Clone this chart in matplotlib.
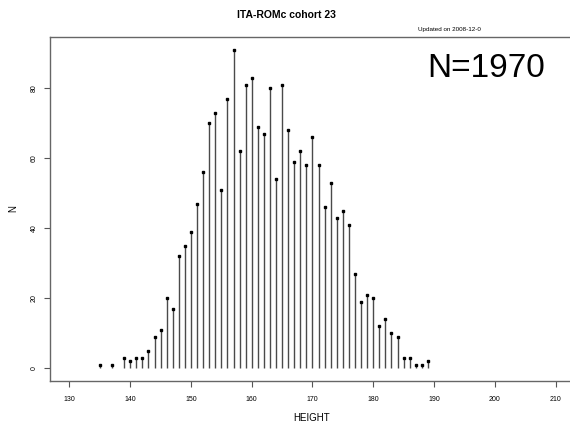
import numpy as np
import matplotlib
matplotlib.use("Agg")
import matplotlib.pyplot as plt

plt.rcParams['font.family'] = ['Liberation Sans', 'DejaVu Sans']

# height (cm) and count of subjects
height = [135, 137, 139, 140, 141, 142, 143, 144, 145, 146, 147, 148,
          149, 150, 151, 152, 153, 154, 155, 156, 157, 158,
          159, 160, 161, 162, 163, 164, 165, 166, 167, 168,
          169, 170, 171, 172, 173, 174, 175, 176, 177, 178,
          179, 180, 181, 182, 183, 184, 185, 186, 187, 188, 189]
count = [1, 1, 3, 2, 3, 3, 5, 9, 11, 20, 17, 32,
         35, 39, 47, 56, 70, 73, 51, 77, 91, 62,
         81, 83, 69, 67, 80, 54, 81, 68, 59, 62,
         58, 66, 58, 46, 53, 43, 45, 41, 27, 19,
         21, 20, 12, 14, 10, 9, 3, 3, 1, 1, 2]
xticks = [130, 140, 150, 160, 170, 180, 190, 200, 210]
yticks = [0, 20, 40, 60, 80]

fig = plt.figure(figsize=(5.7, 4.26), dpi=100)
ax = fig.add_axes([50/570, 45/426, 525/570, 344/426])

ax.vlines(height, 0, count, color='#4a4a4a', linewidth=1.0)
ax.plot(height, count, 's', color='black', markersize=1.6)

ax.set_xlim(126.8, 213.2)
ax.set_ylim(-3.64, 94.64)
ax.set_xticks(xticks)
ax.set_yticks(yticks)
ax.tick_params(axis='both', labelsize=5, length=4, width=0.8, color='#555555')
ax.tick_params(axis='x', pad=7)
ax.tick_params(axis='y', pad=5)
for lab in ax.get_yticklabels():
    lab.set_rotation(90)
    lab.set_va('center')

for s in ['left', 'bottom', 'top']:
    ax.spines[s].set_color('#666666')
    ax.spines[s].set_linewidth(1.0)
ax.spines['right'].set_visible(False)

fig.text(312/570, 1 - 418/426, 'HEIGHT', ha='center', va='center', fontsize=7)
fig.text(13/570, 1 - 209/426, 'N', ha='center', va='center', fontsize=7,
         rotation=90)

fig.text(286/570, 1 - 15/426, 'ITA-ROMc cohort 23', ha='center', va='center',
         fontsize=7.5, fontweight='bold')
fig.text(418/570, 1 - 29/426, 'Updated on 2008-12-0', ha='left', va='center',
         fontsize=4.5)
fig.text(427/570, 1 - 77/426, 'N=1970', ha='left', va='baseline', fontsize=24)

fig.savefig('out.png', dpi=100)
